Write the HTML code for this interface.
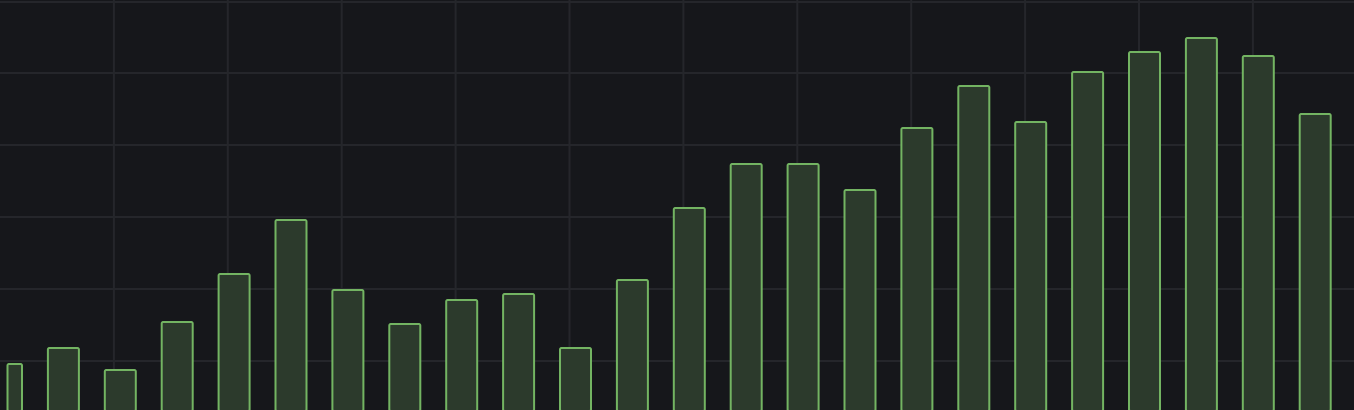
<!DOCTYPE html>
<html><head><meta charset="utf-8"><style>
html,body{margin:0;padding:0;background:#17181c;overflow:hidden}
svg{display:block}
</style></head><body>
<svg id="chart" width="1354" height="410" xmlns="http://www.w3.org/2000/svg">
<rect x="0" y="0" width="1354" height="410" fill="#16171b"/>
<g id="grid"></g>
<g id="bars"></g>
</svg>
<script>
const categories = Array.from({length:24},(_,i)=>'p'+(i+1));
const values = [43,59,37,85,133,187,117,83,107,113,59,127,199,243,243,217,279,321,285,335,355,369,351,293];
const yTicks = [46,118,190,262,334,405];
const xTicks = [1,2,3,4,5,6,7,8,9,10,11];

const svg = document.getElementById('chart');
const ns = 'http://www.w3.org/2000/svg';
const baseY = 407, yMax = 407;
const y = v => baseY - v * (baseY / yMax);
const step = 56.9, x0 = 6.5;
const xc = i => x0 + i * step;
const bw = 32;
const gridStep = 113.9;

const grid = document.getElementById('grid');
for (const t of yTicks) {
  const l = document.createElementNS(ns,'line');
  l.setAttribute('x1',0); l.setAttribute('x2',1354);
  l.setAttribute('y1',y(t)); l.setAttribute('y2',y(t));
  l.setAttribute('stroke','#25262b'); l.setAttribute('stroke-width','2');
  
  
  grid.appendChild(l);
}
for (const t of xTicks) {
  const gx = t * gridStep;
  const l = document.createElementNS(ns,'line');
  l.setAttribute('x1',gx); l.setAttribute('x2',gx);
  l.setAttribute('y1',0); l.setAttribute('y2',410);
  l.setAttribute('stroke','#25262b'); l.setAttribute('stroke-width','2');
  
  
  grid.appendChild(l);
}
const bars = document.getElementById('bars');
values.forEach((v,i)=>{
  let left = xc(i) - bw/2, w = bw;
  if (left < 7) { w -= (7-left); left = 7; }
  const r = document.createElementNS(ns,'rect');
  r.setAttribute('x',left+0.5); r.setAttribute('y',y(v));
  r.setAttribute('width',w-1); r.setAttribute('height',baseY - y(v) + 4);
  r.setAttribute('rx',1.5);
  r.setAttribute('fill','#2c3a2c'); r.setAttribute('stroke','#73b462'); r.setAttribute('stroke-width','2');
  
  
  bars.appendChild(r);
});
</script>
</body></html>
